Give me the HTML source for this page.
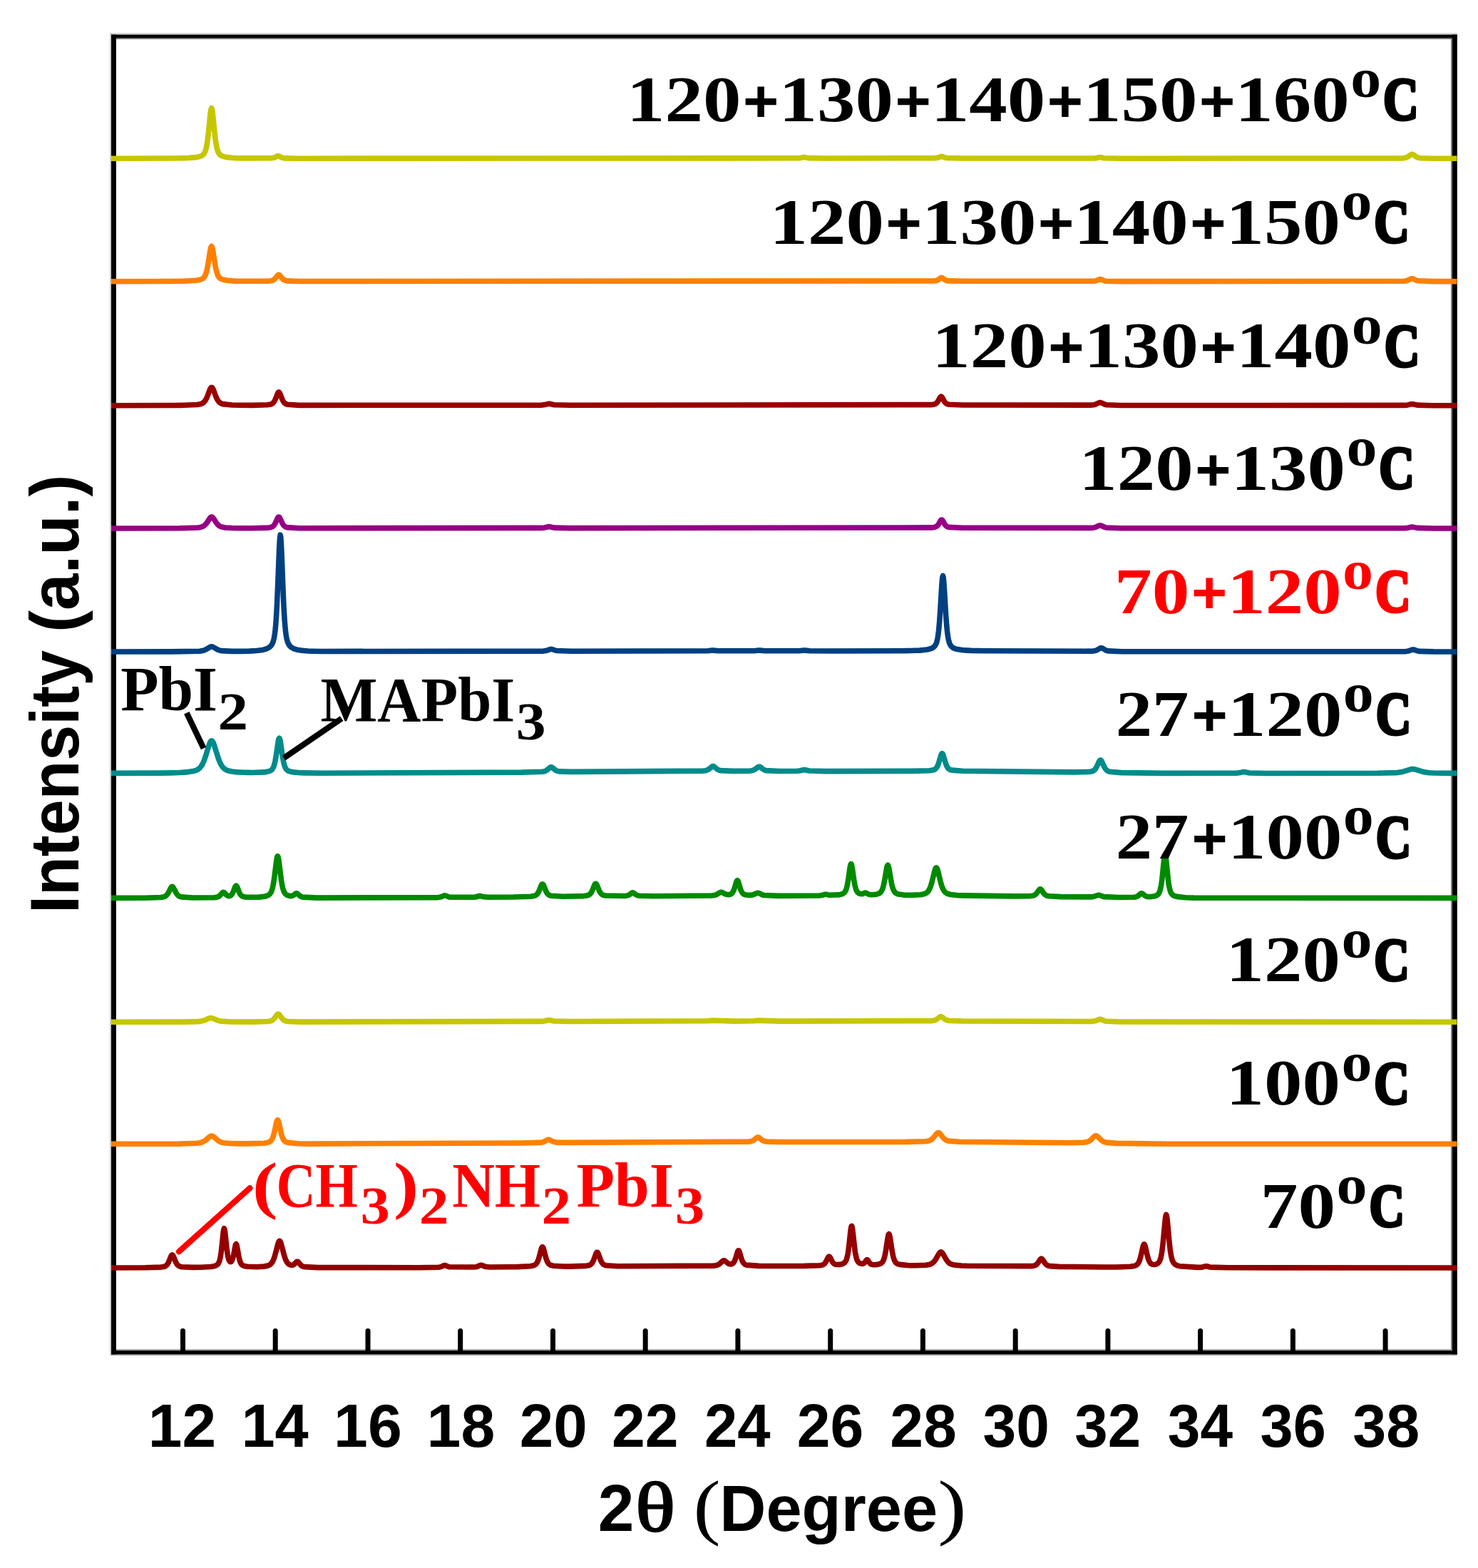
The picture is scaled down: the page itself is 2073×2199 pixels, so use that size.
<!DOCTYPE html>
<html lang="en"><head><meta charset="utf-8"><title>XRD patterns</title>
<style>html,body{margin:0;padding:0;background:#fff}body{width:2073px;height:2199px;overflow:hidden}svg{display:block}text{white-space:pre}.s{font-family:"Liberation Serif", serif;font-weight:bold}.a{font-family:"Liberation Sans", sans-serif;font-weight:bold}.r{font-family:"Liberation Serif", serif;font-weight:normal}</style></head><body>
<svg width="2073" height="2199" viewBox="0 0 2073 2199">
<rect x="0" y="0" width="2073" height="2199" fill="#fff"/>
<rect x="154.1" y="46.3" width="1.9" height="1854.5" fill="#c8c8c8"/>
<rect x="2035.0" y="48.6" width="2.0" height="1850.7" fill="#808080"/>
<rect x="154.1" y="46.3" width="1889.7" height="2.3" fill="#d0d0d0"/>
<rect x="156.0" y="53.1" width="1881.0" height="1.8" fill="#666"/>
<rect x="156.0" y="1892.2" width="1881.0" height="1.9" fill="#999"/>
<rect x="156.0" y="1899.3" width="1887.8" height="1.5" fill="#888"/>
<rect x="156.0" y="48.6" width="6.9" height="1850.7" fill="#000"/>
<rect x="2037.0" y="48.6" width="6.8" height="1850.7" fill="#000"/>
<rect x="156.0" y="48.6" width="1887.8" height="4.5" fill="#000"/>
<rect x="156.0" y="1894.1" width="1887.8" height="5.2" fill="#000"/>
<g stroke="#000" stroke-width="7.0" stroke-linecap="round">
<line x1="256.5" y1="1895" x2="256.5" y2="1866.6"/>
<line x1="386.2" y1="1895" x2="386.2" y2="1866.6"/>
<line x1="516.0" y1="1895" x2="516.0" y2="1866.6"/>
<line x1="645.7" y1="1895" x2="645.7" y2="1866.6"/>
<line x1="775.5" y1="1895" x2="775.5" y2="1866.6"/>
<line x1="905.2" y1="1895" x2="905.2" y2="1866.6"/>
<line x1="1034.9" y1="1895" x2="1034.9" y2="1866.6"/>
<line x1="1164.7" y1="1895" x2="1164.7" y2="1866.6"/>
<line x1="1294.4" y1="1895" x2="1294.4" y2="1866.6"/>
<line x1="1424.2" y1="1895" x2="1424.2" y2="1866.6"/>
<line x1="1553.9" y1="1895" x2="1553.9" y2="1866.6"/>
<line x1="1683.6" y1="1895" x2="1683.6" y2="1866.6"/>
<line x1="1813.4" y1="1895" x2="1813.4" y2="1866.6"/>
<line x1="1943.1" y1="1895" x2="1943.1" y2="1866.6"/>
</g>
<g fill="none" stroke-width="7.6" stroke-linejoin="round" stroke-linecap="butt">
<path stroke="#c6c600" d="M156.0,222.3 L240.0,222.0 L258.0,221.8 L264.0,221.5 L275.1,220.6 L279.3,219.7 L282.3,218.7 L283.5,218.0 L284.7,217.1 L285.3,216.5 L285.9,215.8 L286.5,215.0 L287.1,213.9 L288.0,211.8 L288.9,208.9 L289.5,206.3 L290.1,203.3 L290.7,199.7 L291.3,195.4 L292.5,185.1 L294.9,160.8 L295.5,156.0 L296.1,152.7 L296.7,151.6 L297.3,152.7 L297.9,156.0 L298.5,160.8 L300.9,185.1 L302.1,195.4 L302.7,199.7 L303.3,203.3 L303.9,206.3 L304.5,208.9 L305.1,210.9 L306.0,213.3 L306.9,215.0 L307.5,215.8 L308.1,216.5 L309.3,217.6 L310.5,218.3 L312.9,219.4 L318.3,220.6 L325.5,221.3 L330.0,221.6 L342.0,221.9 L380.5,221.8 L382.9,221.5 L384.7,221.1 L386.5,220.2 L388.9,219.0 L389.5,218.8 L390.1,218.7 L390.7,218.8 L391.3,219.0 L394.9,220.8 L396.7,221.4 L400.3,221.9 L420.0,222.2 L1120.2,221.8 L1123.8,221.3 L1126.8,220.6 L1128.0,220.5 L1129.2,220.6 L1134.0,221.6 L1158.0,222.0 L1311.5,221.7 L1314.5,221.3 L1316.9,220.6 L1319.3,219.7 L1320.0,219.5 L1320.5,219.5 L1321.1,219.5 L1322.3,219.9 L1325.3,221.0 L1327.7,221.5 L1350.0,222.0 L1534.6,222.0 L1538.2,221.5 L1541.2,220.8 L1542.4,220.7 L1543.6,220.8 L1548.4,221.8 L1572.0,222.2 L1966.7,221.9 L1970.3,221.5 L1972.1,221.0 L1974.0,220.2 L1975.7,219.2 L1978.7,216.9 L1979.3,216.6 L1980.0,216.4 L1980.5,216.3 L1981.1,216.4 L1981.7,216.6 L1982.9,217.3 L1986.0,219.6 L1987.7,220.6 L1989.5,221.2 L1993.1,221.8 L2010.0,222.2 L2043.5,222.3"/>
<path stroke="#ff8000" d="M156.0,394.7 L240.0,394.5 L258.0,394.2 L275.1,393.3 L279.9,392.5 L282.3,391.7 L283.5,391.1 L284.7,390.4 L285.9,389.2 L286.5,388.5 L287.1,387.5 L288.0,385.8 L288.9,383.4 L289.5,381.4 L290.1,379.1 L291.3,373.4 L292.5,366.3 L294.3,354.4 L294.9,350.9 L295.5,348.0 L296.1,346.1 L296.7,345.4 L297.3,346.1 L297.9,348.0 L298.5,350.9 L301.5,370.0 L302.7,376.5 L303.3,379.1 L303.9,381.4 L304.5,383.4 L305.1,385.0 L306.3,387.5 L306.9,388.5 L307.5,389.2 L308.7,390.3 L309.9,391.1 L312.3,392.1 L318.3,393.3 L325.5,393.9 L330.0,394.1 L342.0,394.3 L377.1,394.1 L380.1,393.7 L381.9,393.3 L383.1,392.8 L384.3,392.0 L385.5,391.0 L386.7,389.7 L389.1,386.6 L390.0,385.7 L390.3,385.6 L390.9,385.4 L391.5,385.6 L392.1,386.0 L392.7,386.6 L396.3,391.0 L397.5,392.1 L398.7,392.8 L399.9,393.3 L402.3,393.9 L420.0,394.5 L1309.7,394.0 L1312.1,393.8 L1314.0,393.3 L1315.1,392.8 L1316.3,392.0 L1318.7,390.2 L1319.3,389.8 L1320.0,389.5 L1320.5,389.4 L1321.1,389.5 L1321.7,389.8 L1324.7,392.0 L1326.0,392.8 L1327.7,393.5 L1330.1,393.9 L1350.0,394.3 L1533.4,394.3 L1536.4,393.9 L1538.2,393.4 L1542.0,391.8 L1543.0,391.6 L1543.6,391.7 L1544.8,392.1 L1548.4,393.6 L1550.8,394.2 L1572.0,394.6 L1968.5,394.3 L1971.5,394.0 L1974.0,393.3 L1978.7,391.1 L1980.0,390.7 L1980.5,390.7 L1981.1,390.7 L1982.3,391.1 L1986.5,393.1 L1988.9,393.8 L2010.0,394.6 L2043.5,394.7"/>
<path stroke="#9a0000" d="M156.0,568.7 L246.0,568.5 L258.0,568.3 L276.4,567.5 L280.6,566.8 L282.4,566.2 L283.6,565.7 L284.8,565.0 L286.0,564.0 L287.2,562.7 L288.4,560.9 L289.6,558.7 L290.8,556.0 L294.4,546.4 L295.0,545.1 L295.6,544.1 L296.2,543.5 L296.8,543.3 L297.4,543.5 L298.0,544.1 L298.6,545.1 L300.0,548.5 L302.8,556.0 L304.0,558.7 L305.2,560.9 L306.4,562.7 L307.6,564.0 L308.8,565.0 L310.0,565.7 L312.4,566.6 L325.6,568.0 L336.0,568.3 L354.0,568.4 L374.8,567.8 L378.4,567.3 L380.2,566.8 L381.4,566.3 L382.6,565.5 L383.2,564.9 L384.4,563.4 L385.6,561.3 L386.8,558.5 L389.2,552.3 L390.0,550.7 L390.4,550.2 L391.0,549.9 L391.6,550.2 L392.2,551.0 L392.8,552.3 L396.0,560.4 L397.0,562.4 L397.6,563.4 L398.2,564.2 L398.8,564.9 L400.0,565.9 L401.2,566.6 L403.0,567.2 L420.0,568.4 L759.8,568.1 L764.0,567.6 L768.8,566.4 L770.0,566.3 L771.2,566.4 L777.2,567.8 L798.8,568.3 L1305.6,567.6 L1309.2,567.2 L1311.0,566.8 L1312.2,566.3 L1313.4,565.4 L1314.0,564.9 L1314.6,564.2 L1315.8,562.4 L1318.2,557.9 L1318.8,557.0 L1319.4,556.3 L1320.0,556.1 L1320.6,556.3 L1321.2,557.0 L1321.8,557.9 L1324.2,562.4 L1325.4,564.2 L1326.0,564.9 L1326.6,565.4 L1327.8,566.3 L1329.0,566.8 L1331.4,567.3 L1350.0,568.0 L1531.0,568.1 L1534.0,567.7 L1536.4,567.1 L1541.2,564.9 L1542.4,564.6 L1543.0,564.5 L1543.6,564.6 L1544.8,564.9 L1549.0,566.9 L1551.4,567.7 L1572.0,568.5 L1970.3,568.4 L1974.5,567.9 L1979.3,566.8 L1980.5,566.7 L1981.7,566.8 L1987.7,568.1 L2010.0,568.7 L2043.5,568.7"/>
<path stroke="#960084" d="M156.0,741.0 L252.0,740.8 L277.6,740.0 L281.2,739.4 L283.6,738.7 L285.4,737.9 L286.6,737.0 L288.4,735.4 L290.2,733.1 L294.4,726.7 L295.0,726.0 L295.6,725.4 L296.2,725.1 L296.8,725.0 L297.4,725.1 L298.0,725.4 L298.6,726.0 L300.0,727.8 L303.4,733.1 L305.2,735.4 L306.4,736.5 L307.6,737.5 L309.4,738.5 L311.2,739.1 L316.0,740.0 L325.6,740.5 L336.0,740.7 L354.0,740.7 L376.0,740.1 L379.0,739.7 L380.8,739.2 L382.0,738.6 L383.2,737.8 L384.4,736.5 L385.6,734.7 L386.8,732.3 L389.2,726.9 L390.0,725.6 L390.4,725.2 L391.0,725.0 L391.6,725.2 L392.2,725.9 L392.8,727.0 L396.0,733.9 L397.0,735.6 L398.2,737.2 L399.4,738.2 L400.6,739.0 L402.4,739.6 L420.0,740.7 L759.8,740.4 L764.0,739.9 L768.8,738.7 L770.0,738.6 L771.2,738.7 L777.2,740.1 L798.8,740.6 L1306.9,739.9 L1310.5,739.4 L1311.7,739.1 L1312.9,738.6 L1314.1,737.9 L1314.7,737.3 L1315.9,735.9 L1317.1,734.0 L1318.9,730.7 L1319.5,729.8 L1320.1,729.2 L1320.7,729.0 L1321.3,729.2 L1321.9,729.8 L1322.5,730.7 L1324.9,735.0 L1326.1,736.7 L1326.7,737.3 L1327.9,738.3 L1329.1,738.9 L1330.9,739.4 L1350.0,740.3 L1531.0,740.4 L1534.0,740.0 L1536.4,739.4 L1541.2,737.2 L1542.4,736.9 L1543.0,736.8 L1543.6,736.9 L1544.8,737.2 L1549.0,739.2 L1551.4,740.0 L1572.0,740.8 L1970.3,740.7 L1974.5,740.2 L1979.3,739.1 L1980.5,739.0 L1981.7,739.1 L1987.7,740.4 L2010.0,741.0 L2043.5,741.0"/>
<path stroke="#004080" d="M156.0,914.0 L240.0,913.9 L280.0,913.2 L284.2,912.6 L286.6,911.9 L289.0,910.8 L294.4,907.5 L295.6,907.0 L296.2,906.9 L296.8,906.8 L297.4,906.9 L298.6,907.2 L300.4,908.2 L304.6,910.7 L307.0,911.8 L310.0,912.6 L325.6,913.4 L336.0,913.4 L348.0,913.2 L354.0,912.9 L360.0,912.5 L368.6,911.4 L372.8,910.3 L375.2,909.3 L377.0,908.3 L378.2,907.4 L379.4,906.3 L380.6,904.9 L381.2,904.0 L381.8,903.0 L382.4,901.7 L383.0,900.1 L383.6,898.2 L384.2,895.8 L384.8,892.7 L385.4,888.8 L386.0,883.9 L386.6,877.6 L387.2,870.0 L387.8,860.6 L388.4,849.5 L390.2,806.7 L391.4,775.3 L392.0,762.3 L392.6,753.4 L393.2,750.2 L393.8,753.4 L394.4,762.3 L395.0,775.3 L397.4,836.7 L398.0,849.6 L398.6,860.6 L399.2,870.0 L399.8,877.7 L400.4,883.9 L401.0,888.8 L401.6,892.7 L402.2,895.8 L402.8,898.2 L403.4,900.2 L404.0,901.7 L404.6,903.0 L405.2,904.0 L406.4,905.7 L408.2,907.5 L410.0,908.7 L412.4,909.9 L416.6,911.2 L422.0,912.1 L426.0,912.5 L432.0,913.0 L438.0,913.2 L450.0,913.5 L762.2,913.1 L765.8,912.6 L771.8,910.6 L773.0,910.4 L774.2,910.5 L780.2,912.5 L801.8,913.3 L992.8,912.8 L998.8,912.0 L1000.6,912.1 L1007.2,912.8 L1058.2,912.8 L1064.2,912.0 L1066.0,912.1 L1072.6,912.8 L1121.4,912.8 L1127.4,912.0 L1129.2,912.1 L1135.8,912.8 L1170.0,913.0 L1266.0,912.7 L1278.0,912.5 L1284.0,912.3 L1290.0,912.1 L1300.3,911.0 L1304.5,910.0 L1306.9,909.1 L1308.7,908.1 L1309.9,907.2 L1311.1,905.9 L1311.7,905.1 L1312.3,904.1 L1312.9,902.9 L1313.5,901.3 L1314.1,899.3 L1314.7,896.8 L1315.3,893.6 L1315.9,889.6 L1316.5,884.7 L1317.1,878.6 L1317.7,871.5 L1318.9,854.0 L1320.7,823.7 L1321.3,815.3 L1321.9,809.5 L1322.5,807.5 L1323.1,809.5 L1323.7,815.3 L1324.3,823.7 L1326.7,863.2 L1327.3,871.5 L1327.9,878.6 L1328.5,884.7 L1329.1,889.6 L1329.7,893.6 L1330.3,896.8 L1330.9,899.3 L1331.5,901.3 L1332.1,902.9 L1332.7,904.1 L1333.3,905.1 L1333.9,905.9 L1335.1,907.2 L1336.3,908.1 L1338.1,909.1 L1341.1,910.2 L1348.9,911.6 L1351.3,911.8 L1356.0,912.1 L1362.0,912.4 L1380.0,912.7 L1531.9,913.2 L1534.9,912.8 L1536.7,912.4 L1538.5,911.7 L1542.7,909.2 L1543.3,908.9 L1543.9,908.7 L1544.5,908.7 L1545.1,908.7 L1545.7,908.9 L1546.9,909.5 L1549.9,911.4 L1551.7,912.3 L1554.1,912.9 L1573.3,913.7 L1970.6,913.7 L1974.2,913.3 L1977.2,912.4 L1980.2,911.3 L1981.4,911.0 L1982.6,911.0 L1983.8,911.3 L1988.0,912.8 L1991.0,913.4 L2010.8,913.9 L2043.5,914.0"/>
<path stroke="#008b8b" d="M156.0,1084.4 L228.0,1084.1 L240.0,1083.9 L252.0,1083.5 L258.0,1083.1 L264.0,1082.6 L271.0,1081.6 L274.0,1080.7 L276.4,1079.7 L278.2,1078.6 L279.4,1077.7 L280.6,1076.5 L282.4,1074.2 L283.6,1072.2 L284.8,1069.9 L286.6,1065.6 L288.4,1060.5 L292.6,1046.7 L294.0,1042.7 L295.0,1040.6 L295.6,1039.7 L296.2,1039.1 L296.8,1038.9 L297.4,1039.1 L298.0,1039.7 L298.6,1040.6 L299.2,1041.7 L300.4,1044.8 L306.0,1062.8 L307.6,1067.1 L308.8,1069.9 L310.0,1072.2 L311.2,1074.1 L312.4,1075.8 L313.6,1077.1 L314.8,1078.1 L316.6,1079.4 L319.0,1080.5 L323.2,1081.6 L325.6,1082.0 L330.0,1082.6 L336.0,1083.0 L342.0,1083.3 L348.0,1083.4 L354.0,1083.5 L370.7,1082.9 L375.5,1082.1 L378.0,1081.4 L379.7,1080.6 L380.9,1079.7 L381.5,1079.1 L382.1,1078.4 L382.7,1077.5 L383.3,1076.3 L384.0,1074.6 L384.5,1073.2 L385.1,1071.1 L385.7,1068.6 L386.3,1065.6 L387.5,1058.4 L390.0,1041.0 L390.5,1038.3 L391.1,1036.1 L391.7,1035.3 L392.3,1036.1 L392.9,1038.3 L393.5,1041.6 L396.0,1059.1 L397.1,1065.7 L397.7,1068.6 L398.3,1071.1 L398.9,1073.2 L399.5,1075.0 L400.1,1076.4 L400.7,1077.6 L401.3,1078.5 L402.0,1079.3 L403.1,1080.3 L404.3,1081.1 L406.1,1081.8 L410.9,1082.9 L420.5,1083.7 L426.0,1083.9 L450.0,1084.3 L732.0,1083.1 L759.8,1082.3 L762.8,1081.9 L764.6,1081.4 L765.8,1080.8 L767.0,1080.1 L771.2,1076.5 L771.8,1076.1 L772.4,1075.9 L773.0,1075.8 L773.6,1075.9 L774.2,1076.1 L775.4,1077.0 L778.4,1079.5 L780.2,1080.7 L782.0,1081.4 L784.4,1081.9 L801.8,1082.4 L986.2,1081.1 L989.2,1080.7 L991.0,1080.3 L992.8,1079.5 L994.0,1078.8 L998.2,1075.3 L998.8,1074.9 L999.4,1074.7 L1000.0,1074.6 L1000.6,1074.7 L1001.2,1074.9 L1002.4,1075.8 L1005.4,1078.4 L1006.6,1079.2 L1008.4,1080.1 L1010.2,1080.6 L1028.8,1081.4 L1051.6,1081.1 L1054.6,1080.7 L1056.4,1080.2 L1058.2,1079.4 L1060.0,1078.2 L1063.0,1075.8 L1063.6,1075.5 L1064.2,1075.2 L1064.8,1075.2 L1065.4,1075.2 L1066.0,1075.5 L1067.2,1076.3 L1070.2,1078.7 L1072.0,1079.7 L1074.4,1080.6 L1093.6,1081.5 L1118.4,1081.2 L1122.6,1080.7 L1126.8,1079.7 L1128.0,1079.6 L1129.2,1079.7 L1135.2,1081.0 L1158.0,1081.6 L1278.0,1081.4 L1303.4,1080.7 L1308.2,1080.0 L1310.0,1079.5 L1311.2,1078.9 L1312.4,1078.0 L1313.0,1077.4 L1314.2,1075.7 L1314.8,1074.6 L1315.4,1073.3 L1316.6,1070.0 L1319.6,1059.7 L1320.2,1058.1 L1320.8,1057.0 L1321.4,1056.6 L1322.0,1057.0 L1322.6,1058.1 L1323.2,1059.7 L1326.2,1070.0 L1327.4,1073.3 L1328.0,1074.6 L1328.6,1075.7 L1329.2,1076.6 L1329.8,1077.4 L1330.4,1078.0 L1331.6,1078.9 L1332.8,1079.5 L1335.2,1080.1 L1350.2,1081.3 L1506.0,1082.9 L1526.7,1082.5 L1530.3,1082.0 L1532.1,1081.5 L1533.3,1081.0 L1534.5,1080.2 L1536.0,1078.7 L1536.9,1077.5 L1538.1,1075.5 L1541.1,1068.9 L1542.0,1067.2 L1542.3,1066.8 L1542.9,1066.2 L1543.5,1065.9 L1544.1,1066.2 L1544.7,1066.8 L1545.3,1067.8 L1548.9,1075.6 L1550.1,1077.7 L1551.3,1079.3 L1552.5,1080.4 L1554.3,1081.5 L1556.1,1082.2 L1572.3,1083.6 L1632.0,1084.4 L1735.0,1084.2 L1739.2,1083.6 L1743.4,1082.6 L1744.6,1082.5 L1746.4,1082.7 L1752.4,1084.0 L1773.4,1084.5 L1932.0,1084.3 L1959.9,1083.6 L1966.5,1082.6 L1978.5,1078.9 L1980.3,1078.6 L1982.1,1078.5 L1984.5,1078.9 L1995.9,1082.4 L2004.3,1083.7 L2010.3,1084.0 L2022.0,1084.3 L2043.5,1084.4"/>
<path stroke="#008a00" d="M156.0,1259.4 L204.0,1259.2 L225.3,1258.5 L228.9,1258.0 L230.7,1257.4 L231.9,1256.8 L233.1,1256.0 L234.3,1254.7 L235.5,1253.1 L236.7,1251.0 L239.7,1245.0 L240.3,1244.1 L240.9,1243.5 L241.5,1243.3 L242.1,1243.5 L242.7,1244.1 L243.3,1245.0 L246.9,1252.0 L248.1,1253.9 L249.3,1255.3 L250.5,1256.4 L252.3,1257.4 L254.1,1257.9 L270.3,1259.0 L300.6,1258.7 L303.6,1258.3 L305.4,1257.8 L306.6,1257.3 L307.8,1256.5 L309.0,1255.4 L311.4,1252.5 L312.0,1251.9 L312.6,1251.4 L313.2,1251.3 L313.8,1251.4 L314.4,1251.7 L317.4,1254.9 L318.6,1255.8 L319.2,1256.2 L319.8,1256.4 L320.4,1256.6 L321.0,1256.6 L321.6,1256.6 L322.2,1256.5 L322.8,1256.3 L323.4,1256.0 L324.0,1255.5 L324.6,1255.0 L325.2,1254.2 L325.8,1253.3 L326.4,1252.2 L327.6,1249.5 L329.4,1244.7 L330.0,1243.4 L330.6,1242.5 L331.2,1242.1 L331.8,1242.5 L332.4,1243.4 L333.0,1244.7 L335.4,1251.1 L336.6,1253.5 L337.2,1254.5 L337.8,1255.3 L338.4,1255.9 L339.0,1256.4 L340.2,1257.1 L341.4,1257.6 L345.0,1258.2 L363.6,1258.1 L370.8,1257.3 L373.8,1256.5 L375.6,1255.8 L376.8,1255.2 L378.0,1254.2 L378.6,1253.6 L379.2,1252.9 L379.8,1251.9 L380.4,1250.8 L381.0,1249.3 L381.6,1247.6 L382.2,1245.4 L382.8,1242.8 L383.4,1239.8 L384.6,1232.2 L387.8,1206.6 L388.4,1203.1 L388.8,1201.6 L389.0,1201.1 L389.4,1200.7 L389.6,1200.8 L390.0,1201.6 L390.6,1204.1 L391.4,1209.4 L394.4,1233.5 L395.6,1240.8 L396.8,1246.1 L398.0,1249.8 L399.2,1252.2 L400.4,1253.7 L401.6,1254.8 L403.4,1255.7 L405.8,1256.4 L408.2,1256.6 L410.0,1256.3 L411.8,1255.4 L414.8,1253.1 L415.4,1252.9 L416.0,1252.8 L416.6,1252.9 L417.2,1253.3 L420.2,1256.0 L421.4,1256.9 L422.6,1257.5 L424.4,1258.1 L444.8,1259.1 L614.1,1258.6 L617.1,1258.2 L618.9,1257.7 L622.5,1256.1 L623.1,1255.9 L624.0,1255.9 L624.9,1256.1 L628.5,1257.6 L630.3,1258.1 L664.0,1258.3 L667.0,1258.0 L672.4,1256.5 L673.6,1256.5 L678.4,1257.8 L685.0,1258.3 L720.0,1258.0 L744.6,1257.2 L748.2,1256.6 L750.0,1256.2 L751.2,1255.6 L752.4,1254.8 L753.0,1254.3 L753.6,1253.6 L754.2,1252.8 L755.4,1250.8 L756.6,1248.1 L759.0,1242.0 L759.6,1240.9 L760.2,1240.1 L760.8,1239.8 L761.4,1240.1 L762.0,1240.8 L762.6,1242.0 L765.6,1249.4 L766.8,1251.7 L767.4,1252.7 L768.0,1253.5 L768.6,1254.1 L769.8,1255.1 L771.0,1255.7 L772.8,1256.3 L789.6,1257.2 L818.7,1256.6 L822.9,1256.0 L824.7,1255.5 L825.9,1255.0 L827.1,1254.2 L828.3,1253.0 L828.9,1252.2 L830.1,1250.2 L831.3,1247.5 L833.7,1241.5 L834.3,1240.3 L834.9,1239.5 L835.5,1239.2 L836.1,1239.5 L836.7,1240.3 L837.3,1241.4 L840.3,1248.8 L841.5,1251.2 L842.1,1252.1 L842.7,1252.9 L843.3,1253.6 L844.5,1254.5 L846.3,1255.4 L848.7,1256.0 L875.4,1256.5 L879.0,1256.2 L880.8,1255.7 L882.0,1255.2 L883.2,1254.5 L885.6,1252.6 L886.2,1252.2 L886.8,1251.9 L887.4,1251.8 L888.0,1251.9 L888.6,1252.2 L891.6,1254.5 L892.8,1255.2 L894.0,1255.7 L895.8,1256.2 L916.2,1256.7 L998.2,1256.0 L1002.4,1255.5 L1004.2,1254.9 L1006.0,1254.0 L1009.6,1251.8 L1010.2,1251.5 L1010.8,1251.3 L1011.4,1251.2 L1012.0,1251.2 L1012.6,1251.4 L1016.8,1253.6 L1018.6,1254.3 L1020.4,1254.6 L1022.2,1254.6 L1023.4,1254.5 L1024.6,1254.1 L1026.0,1253.3 L1027.0,1252.3 L1027.6,1251.5 L1028.2,1250.5 L1028.8,1249.2 L1029.4,1247.8 L1030.6,1244.2 L1032.4,1238.0 L1033.0,1236.3 L1033.6,1235.1 L1034.2,1234.7 L1034.8,1235.1 L1035.4,1236.3 L1036.0,1238.0 L1038.4,1246.2 L1039.0,1247.9 L1039.6,1249.3 L1040.2,1250.6 L1040.8,1251.6 L1041.4,1252.4 L1042.0,1253.1 L1042.6,1253.6 L1043.2,1254.0 L1044.4,1254.5 L1046.2,1255.0 L1050.4,1255.4 L1053.4,1255.4 L1056.4,1254.8 L1061.2,1252.7 L1062.4,1252.3 L1063.0,1252.3 L1063.6,1252.4 L1064.8,1252.7 L1069.0,1254.8 L1071.4,1255.5 L1092.0,1256.4 L1149.6,1256.0 L1152.6,1255.6 L1156.8,1254.3 L1158.0,1254.2 L1159.2,1254.3 L1162.8,1255.3 L1176.9,1254.9 L1181.4,1253.8 L1183.2,1252.8 L1184.4,1251.7 L1185.3,1250.5 L1186.5,1248.1 L1187.1,1246.4 L1188.3,1241.7 L1189.5,1235.2 L1191.9,1218.4 L1192.5,1214.8 L1193.1,1212.4 L1193.6,1211.5 L1193.7,1211.5 L1194.0,1211.7 L1194.3,1212.3 L1194.9,1214.8 L1195.5,1218.3 L1197.9,1235.1 L1199.1,1241.6 L1200.3,1246.2 L1200.9,1247.9 L1201.5,1249.3 L1202.1,1250.3 L1202.7,1251.1 L1203.3,1251.8 L1204.5,1252.7 L1206.3,1253.4 L1208.1,1253.8 L1209.3,1253.7 L1210.5,1253.4 L1212.9,1252.2 L1213.5,1252.0 L1214.1,1252.0 L1214.7,1252.2 L1218.3,1254.2 L1220.1,1254.7 L1224.2,1254.8 L1229.0,1254.2 L1231.4,1253.6 L1232.6,1253.1 L1233.8,1252.5 L1235.0,1251.5 L1236.2,1249.9 L1236.8,1248.9 L1237.4,1247.6 L1238.0,1246.0 L1238.6,1244.1 L1239.2,1241.9 L1240.4,1236.3 L1243.4,1218.6 L1244.0,1215.8 L1244.6,1213.9 L1245.2,1213.2 L1245.8,1213.9 L1246.4,1215.8 L1247.0,1218.6 L1249.4,1233.0 L1250.6,1239.3 L1251.2,1241.9 L1251.8,1244.2 L1252.4,1246.1 L1253.0,1247.6 L1254.2,1250.0 L1254.8,1250.8 L1255.4,1251.5 L1256.6,1252.5 L1257.8,1253.2 L1260.2,1254.1 L1267.4,1255.1 L1274.0,1255.4 L1278.0,1255.4 L1291.0,1254.7 L1295.2,1253.9 L1297.6,1253.2 L1298.8,1252.6 L1300.0,1251.8 L1301.2,1250.7 L1302.4,1249.1 L1303.6,1247.0 L1304.8,1244.3 L1306.0,1240.8 L1307.2,1236.6 L1310.8,1221.8 L1311.4,1219.8 L1312.0,1218.2 L1312.6,1217.2 L1313.2,1216.8 L1313.8,1217.2 L1314.4,1218.2 L1315.0,1219.8 L1315.6,1221.8 L1319.2,1236.7 L1320.4,1240.9 L1321.6,1244.4 L1322.8,1247.1 L1324.0,1249.2 L1325.2,1250.7 L1326.4,1251.9 L1327.6,1252.7 L1329.4,1253.5 L1333.0,1254.5 L1342.0,1255.5 L1344.0,1255.7 L1350.0,1255.9 L1422.0,1256.9 L1445.2,1256.6 L1448.2,1256.2 L1450.0,1255.8 L1451.2,1255.2 L1452.4,1254.4 L1453.6,1253.2 L1454.8,1251.7 L1457.2,1248.2 L1458.0,1247.3 L1458.4,1247.0 L1459.0,1246.9 L1459.6,1247.0 L1460.2,1247.5 L1460.8,1248.2 L1464.0,1252.9 L1465.0,1254.0 L1466.2,1255.0 L1467.4,1255.7 L1468.6,1256.2 L1471.6,1256.8 L1488.0,1257.6 L1530.2,1257.9 L1533.8,1257.4 L1539.8,1255.5 L1541.0,1255.4 L1542.2,1255.5 L1548.2,1257.6 L1569.8,1258.5 L1590.3,1258.3 L1592.7,1257.9 L1593.9,1257.6 L1595.1,1257.1 L1596.3,1256.4 L1599.9,1253.2 L1600.5,1252.9 L1601.1,1252.8 L1601.7,1252.9 L1602.3,1253.2 L1605.3,1255.7 L1606.5,1256.5 L1608.3,1257.3 L1610.1,1257.6 L1614.3,1257.6 L1618.5,1257.0 L1620.9,1256.3 L1622.1,1255.8 L1623.3,1255.0 L1623.9,1254.5 L1624.5,1253.9 L1625.1,1253.1 L1626.0,1251.5 L1626.9,1249.2 L1627.5,1247.1 L1628.1,1244.4 L1628.7,1241.1 L1629.3,1237.1 L1629.9,1232.4 L1632.3,1208.6 L1632.9,1203.4 L1633.5,1199.8 L1634.1,1198.5 L1634.7,1199.8 L1635.3,1203.4 L1635.9,1208.7 L1638.3,1232.4 L1638.9,1237.2 L1639.5,1241.2 L1640.1,1244.5 L1640.7,1247.2 L1641.3,1249.3 L1641.9,1251.0 L1642.5,1252.3 L1643.1,1253.3 L1644.3,1254.7 L1645.5,1255.6 L1647.3,1256.5 L1650.3,1257.4 L1662.9,1258.8 L1674.0,1259.1 L2043.5,1259.4"/>
<path stroke="#c6c600" d="M156.0,1433.3 L258.0,1433.1 L278.9,1432.6 L283.1,1431.9 L286.7,1430.9 L293.3,1428.1 L294.5,1427.8 L295.7,1427.7 L296.9,1427.8 L298.7,1428.3 L305.3,1431.1 L309.5,1432.1 L324.5,1433.0 L354.0,1433.1 L375.8,1432.5 L378.8,1432.1 L380.6,1431.5 L381.8,1430.9 L383.0,1430.0 L384.2,1428.9 L386.0,1426.6 L387.8,1424.0 L388.4,1423.2 L389.0,1422.6 L389.6,1422.2 L390.2,1422.1 L390.8,1422.2 L391.4,1422.6 L392.0,1423.2 L395.6,1428.2 L396.8,1429.5 L398.0,1430.5 L399.2,1431.2 L401.0,1431.9 L404.6,1432.5 L420.0,1433.1 L759.8,1432.4 L764.0,1431.8 L768.8,1430.7 L770.0,1430.6 L771.2,1430.7 L777.2,1432.0 L798.8,1432.5 L992.8,1431.8 L999.4,1431.1 L1028.8,1432.1 L1056.8,1431.8 L1063.4,1431.1 L1092.8,1432.1 L1305.8,1431.6 L1309.4,1431.2 L1311.2,1430.7 L1313.0,1429.9 L1314.8,1428.8 L1317.8,1426.4 L1318.4,1426.0 L1319.0,1425.8 L1319.6,1425.7 L1320.2,1425.8 L1320.8,1426.0 L1322.0,1426.8 L1325.0,1429.2 L1326.8,1430.2 L1328.6,1430.9 L1332.2,1431.5 L1350.0,1432.0 L1531.6,1432.5 L1534.6,1432.1 L1537.0,1431.5 L1541.2,1429.8 L1542.4,1429.4 L1543.0,1429.4 L1543.6,1429.5 L1544.8,1429.8 L1549.0,1431.6 L1551.4,1432.2 L1572.0,1433.0 L2043.5,1433.3"/>
<path stroke="#ff8000" d="M156.0,1604.3 L252.0,1604.1 L276.4,1603.3 L280.6,1602.7 L283.0,1602.0 L285.4,1600.9 L288.4,1599.0 L294.0,1594.2 L295.0,1593.5 L295.6,1593.3 L296.2,1593.1 L296.8,1593.1 L297.4,1593.1 L298.0,1593.3 L299.2,1593.9 L301.0,1595.3 L305.2,1599.0 L307.6,1600.6 L310.0,1601.8 L313.0,1602.7 L325.6,1603.7 L336.0,1603.9 L348.0,1603.9 L370.2,1603.2 L375.0,1602.4 L376.8,1601.9 L378.0,1601.4 L379.2,1600.6 L379.8,1600.0 L380.4,1599.4 L381.0,1598.5 L381.6,1597.5 L382.2,1596.3 L382.8,1594.8 L383.4,1593.1 L384.6,1588.7 L387.6,1574.8 L388.2,1572.6 L388.8,1571.2 L389.4,1570.7 L390.0,1571.2 L390.6,1572.6 L391.2,1574.8 L393.6,1586.1 L394.8,1591.0 L395.4,1593.1 L396.0,1594.8 L396.6,1596.3 L397.2,1597.5 L397.8,1598.6 L398.4,1599.4 L399.0,1600.1 L400.2,1601.0 L401.4,1601.7 L403.8,1602.5 L418.2,1603.8 L432.0,1604.1 L732.0,1603.0 L757.4,1602.4 L760.4,1602.0 L762.2,1601.5 L764.0,1600.7 L768.2,1598.4 L768.8,1598.3 L769.4,1598.2 L770.0,1598.3 L770.6,1598.4 L775.4,1600.9 L777.2,1601.5 L780.2,1602.1 L798.2,1602.4 L1049.2,1601.1 L1052.8,1600.7 L1054.6,1600.2 L1056.4,1599.3 L1058.2,1598.1 L1061.2,1595.6 L1062.0,1595.1 L1062.4,1595.0 L1063.0,1594.9 L1063.6,1595.0 L1064.2,1595.2 L1065.4,1596.0 L1068.4,1598.6 L1070.2,1599.7 L1072.0,1600.4 L1075.0,1601.0 L1092.0,1601.5 L1272.0,1601.4 L1297.4,1600.7 L1301.0,1600.2 L1303.4,1599.6 L1305.2,1598.8 L1306.4,1598.0 L1308.2,1596.5 L1310.0,1594.5 L1313.0,1590.7 L1314.2,1589.4 L1314.8,1589.0 L1315.4,1588.7 L1316.0,1588.6 L1316.6,1588.7 L1317.2,1589.0 L1317.8,1589.4 L1319.0,1590.7 L1322.6,1595.2 L1324.4,1597.0 L1326.2,1598.4 L1328.0,1599.3 L1330.4,1600.1 L1344.8,1601.2 L1500.0,1602.7 L1519.7,1602.3 L1523.3,1601.8 L1525.7,1601.1 L1527.5,1600.3 L1529.3,1599.1 L1531.7,1596.9 L1534.1,1594.4 L1535.3,1593.4 L1536.0,1593.0 L1536.5,1592.8 L1537.1,1592.7 L1537.7,1592.8 L1538.3,1593.1 L1538.9,1593.4 L1540.1,1594.5 L1543.7,1598.2 L1545.5,1599.7 L1547.3,1600.9 L1549.1,1601.6 L1552.1,1602.4 L1566.0,1603.4 L1638.0,1604.2 L2043.5,1604.3"/>
<path stroke="#940000" d="M156.0,1778.0 L204.0,1777.8 L225.9,1777.1 L229.5,1776.5 L231.3,1776.0 L232.5,1775.3 L233.7,1774.3 L234.3,1773.7 L234.9,1772.9 L236.1,1770.8 L237.3,1768.2 L239.7,1762.1 L240.3,1761.0 L240.9,1760.2 L241.5,1759.9 L242.1,1760.2 L242.7,1760.9 L243.3,1762.1 L246.3,1769.5 L247.5,1771.9 L248.1,1772.8 L248.7,1773.6 L249.3,1774.2 L250.5,1775.2 L252.3,1776.1 L254.7,1776.7 L270.3,1777.4 L282.0,1777.3 L295.8,1776.5 L300.0,1775.8 L302.4,1775.0 L303.6,1774.4 L304.8,1773.6 L305.4,1773.0 L306.0,1772.3 L306.6,1771.3 L307.2,1770.1 L307.8,1768.4 L308.4,1766.3 L309.0,1763.6 L309.6,1760.2 L310.2,1756.0 L311.4,1745.5 L312.6,1733.4 L313.2,1728.0 L313.8,1724.2 L314.4,1722.8 L315.0,1724.1 L315.6,1727.8 L318.0,1750.3 L318.6,1755.1 L319.2,1759.1 L319.8,1762.4 L320.4,1764.9 L321.0,1766.8 L321.6,1768.1 L322.2,1769.0 L322.8,1769.5 L323.4,1769.7 L324.0,1769.5 L324.6,1769.0 L325.2,1768.2 L325.8,1766.9 L326.4,1765.1 L327.0,1762.9 L327.6,1760.3 L330.0,1747.4 L330.6,1745.3 L331.2,1744.6 L331.8,1745.5 L332.4,1747.8 L334.8,1761.4 L335.4,1764.3 L336.0,1766.8 L336.6,1768.8 L337.2,1770.4 L337.8,1771.7 L338.4,1772.7 L339.0,1773.4 L339.6,1774.0 L340.8,1774.8 L342.6,1775.5 L346.8,1776.3 L360.0,1776.7 L370.5,1776.1 L374.7,1775.3 L376.5,1774.7 L378.3,1773.8 L379.5,1772.9 L380.7,1771.7 L381.9,1770.0 L383.1,1767.7 L384.3,1764.8 L385.5,1761.1 L387.3,1754.5 L389.7,1745.0 L390.3,1743.1 L390.9,1741.6 L391.5,1740.7 L391.9,1740.4 L392.1,1740.4 L392.5,1740.5 L392.7,1740.7 L393.3,1741.6 L393.9,1743.1 L395.1,1747.2 L398.7,1761.1 L400.5,1766.2 L402.3,1769.8 L403.5,1771.5 L404.7,1772.6 L405.9,1773.4 L407.7,1774.1 L408.9,1774.3 L410.1,1774.2 L411.3,1773.8 L412.5,1773.0 L416.1,1769.5 L416.7,1769.2 L417.3,1769.2 L417.9,1769.5 L418.5,1770.1 L421.3,1773.5 L422.5,1774.7 L423.7,1775.5 L424.9,1776.1 L426.7,1776.6 L445.9,1777.6 L588.0,1777.7 L614.7,1777.3 L617.1,1776.9 L618.9,1776.4 L622.5,1774.8 L623.1,1774.6 L624.0,1774.6 L624.9,1774.8 L628.5,1776.3 L630.3,1776.8 L664.6,1777.0 L667.6,1776.7 L669.4,1776.3 L673.6,1774.4 L674.2,1774.3 L674.8,1774.2 L675.4,1774.3 L676.6,1774.7 L679.6,1776.0 L681.4,1776.5 L687.4,1777.0 L714.0,1776.8 L726.0,1776.6 L743.4,1775.7 L747.0,1775.1 L748.8,1774.6 L750.0,1774.1 L751.2,1773.2 L751.8,1772.7 L752.4,1772.0 L753.0,1771.1 L753.6,1770.1 L754.2,1768.9 L754.8,1767.4 L756.0,1763.8 L759.0,1752.2 L759.6,1750.3 L760.2,1749.1 L760.8,1748.7 L761.4,1749.1 L762.0,1750.3 L762.6,1752.1 L765.6,1763.7 L766.8,1767.3 L767.4,1768.8 L768.0,1770.0 L768.6,1771.0 L769.2,1771.9 L769.8,1772.5 L770.4,1773.1 L771.6,1773.9 L772.8,1774.4 L775.8,1775.2 L789.6,1776.0 L798.0,1776.1 L820.7,1775.4 L824.9,1774.8 L826.7,1774.3 L828.0,1773.6 L829.1,1772.8 L829.7,1772.2 L830.3,1771.5 L830.9,1770.6 L832.1,1768.3 L833.3,1765.4 L835.7,1758.7 L836.3,1757.4 L836.9,1756.5 L837.5,1756.2 L838.1,1756.5 L838.7,1757.4 L839.3,1758.7 L842.3,1766.9 L843.5,1769.5 L844.1,1770.5 L844.7,1771.4 L845.3,1772.1 L846.0,1772.8 L847.1,1773.6 L848.3,1774.2 L850.7,1774.8 L866.3,1775.8 L1000.2,1775.1 L1003.8,1774.7 L1005.6,1774.3 L1007.6,1773.5 L1009.4,1772.3 L1013.6,1768.4 L1014.2,1768.0 L1014.8,1767.8 L1015.4,1767.7 L1016.0,1767.8 L1017.2,1768.6 L1020.8,1771.6 L1022.6,1772.5 L1024.4,1772.9 L1025.6,1772.9 L1026.8,1772.5 L1028.0,1771.7 L1029.2,1770.4 L1030.4,1768.2 L1031.6,1765.1 L1034.6,1755.3 L1035.2,1754.1 L1035.6,1753.8 L1035.8,1753.7 L1036.2,1753.9 L1036.4,1754.2 L1037.0,1755.4 L1040.0,1765.3 L1041.2,1768.5 L1042.4,1770.7 L1043.6,1772.2 L1044.2,1772.7 L1045.4,1773.5 L1047.2,1774.1 L1064.6,1775.4 L1092.0,1775.5 L1128.0,1775.4 L1149.0,1774.8 L1152.0,1774.4 L1153.8,1773.9 L1155.0,1773.3 L1155.6,1772.9 L1156.2,1772.4 L1156.8,1771.8 L1157.4,1771.0 L1158.6,1769.1 L1161.0,1764.2 L1161.6,1763.1 L1162.2,1762.4 L1162.8,1762.1 L1163.4,1762.4 L1164.0,1763.0 L1164.6,1764.1 L1167.0,1768.8 L1168.2,1770.7 L1169.4,1772.0 L1170.6,1772.7 L1171.8,1773.2 L1173.6,1773.5 L1177.2,1773.4 L1180.2,1772.9 L1182.0,1772.3 L1183.2,1771.8 L1184.4,1770.9 L1185.0,1770.3 L1185.6,1769.6 L1186.2,1768.6 L1186.8,1767.4 L1187.4,1765.8 L1188.0,1763.8 L1188.6,1761.2 L1189.2,1758.1 L1189.8,1754.3 L1191.0,1744.7 L1192.8,1727.8 L1193.4,1723.2 L1194.0,1720.1 L1194.5,1719.3 L1194.6,1719.3 L1195.1,1720.5 L1195.8,1724.5 L1198.8,1751.3 L1199.4,1755.5 L1200.0,1759.1 L1200.6,1762.0 L1201.2,1764.4 L1201.8,1766.3 L1202.4,1767.7 L1203.0,1768.8 L1203.6,1769.7 L1204.2,1770.3 L1205.4,1771.3 L1206.6,1771.9 L1208.4,1772.3 L1209.6,1772.4 L1210.8,1772.1 L1211.4,1771.8 L1212.0,1771.4 L1212.6,1770.8 L1213.8,1769.2 L1215.0,1767.5 L1215.6,1766.8 L1216.2,1766.6 L1216.8,1766.9 L1217.4,1767.6 L1219.2,1770.5 L1220.4,1771.9 L1221.0,1772.5 L1222.2,1773.1 L1223.4,1773.5 L1226.4,1773.7 L1230.6,1773.4 L1233.0,1772.8 L1234.8,1772.2 L1236.0,1771.5 L1236.6,1771.0 L1237.2,1770.4 L1237.8,1769.7 L1238.4,1768.8 L1239.0,1767.6 L1239.6,1766.1 L1240.2,1764.3 L1240.8,1762.1 L1241.4,1759.5 L1242.6,1752.9 L1245.0,1736.9 L1245.6,1733.6 L1246.2,1731.3 L1246.8,1730.6 L1247.4,1731.3 L1248.0,1733.6 L1248.6,1736.9 L1251.0,1753.0 L1252.2,1759.6 L1252.8,1762.2 L1253.4,1764.4 L1254.0,1766.2 L1254.6,1767.7 L1255.2,1768.9 L1255.8,1769.8 L1256.4,1770.6 L1257.0,1771.2 L1258.2,1772.1 L1259.4,1772.7 L1261.8,1773.4 L1275.6,1774.8 L1284.0,1774.8 L1298.7,1774.3 L1302.9,1773.6 L1304.7,1773.1 L1306.5,1772.2 L1308.3,1771.0 L1309.5,1769.9 L1310.7,1768.5 L1312.5,1766.0 L1316.7,1758.6 L1317.3,1757.6 L1317.9,1756.9 L1318.5,1756.3 L1319.1,1755.9 L1319.7,1755.8 L1320.3,1755.9 L1320.9,1756.3 L1321.5,1756.9 L1322.1,1757.6 L1326.9,1766.0 L1328.7,1768.6 L1329.9,1770.0 L1331.1,1771.1 L1332.3,1772.0 L1334.1,1772.9 L1336.5,1773.7 L1348.5,1775.0 L1356.0,1775.2 L1446.2,1775.6 L1449.8,1775.2 L1451.6,1774.7 L1452.8,1774.1 L1454.0,1773.2 L1455.2,1771.9 L1456.4,1770.3 L1458.8,1766.5 L1459.4,1765.8 L1460.0,1765.3 L1460.6,1765.1 L1461.2,1765.3 L1461.8,1765.8 L1462.4,1766.6 L1465.4,1771.2 L1466.6,1772.7 L1467.8,1773.8 L1469.0,1774.5 L1470.2,1775.1 L1472.6,1775.6 L1485.2,1776.4 L1548.0,1777.0 L1566.0,1777.0 L1585.5,1776.3 L1590.3,1775.6 L1592.1,1775.0 L1593.3,1774.5 L1594.5,1773.7 L1595.1,1773.2 L1596.3,1771.8 L1596.9,1770.8 L1597.5,1769.6 L1598.1,1768.2 L1598.7,1766.5 L1599.9,1762.3 L1602.9,1749.0 L1603.5,1746.9 L1604.1,1745.5 L1604.7,1745.0 L1605.3,1745.4 L1605.9,1746.8 L1606.5,1748.9 L1609.5,1761.9 L1610.7,1765.9 L1611.9,1768.9 L1613.1,1770.9 L1614.3,1772.2 L1615.5,1772.9 L1616.7,1773.3 L1618.5,1773.5 L1620.9,1773.2 L1622.7,1772.5 L1623.9,1771.8 L1625.1,1770.6 L1626.3,1768.8 L1626.9,1767.5 L1627.5,1765.8 L1628.1,1763.8 L1628.7,1761.2 L1629.9,1754.1 L1631.1,1744.3 L1633.9,1713.9 L1634.5,1708.5 L1635.1,1704.8 L1635.7,1703.5 L1636.3,1704.8 L1636.9,1708.5 L1637.5,1714.0 L1639.9,1740.6 L1641.1,1751.5 L1641.7,1755.9 L1642.3,1759.5 L1642.9,1762.6 L1643.5,1765.0 L1644.1,1767.0 L1644.7,1768.5 L1645.3,1769.8 L1645.9,1770.8 L1646.5,1771.6 L1647.7,1772.8 L1648.9,1773.7 L1650.7,1774.6 L1654.3,1775.7 L1680.3,1777.4 L1685.1,1777.2 L1687.5,1776.7 L1690.5,1775.8 L1692.0,1775.7 L1693.5,1776.0 L1697.1,1777.1 L1722.0,1777.8 L2043.5,1778.0"/>
</g>
<line x1="261.8" y1="999.8" x2="285.6" y2="1049.6" stroke="#000" stroke-width="8.2" stroke-linecap="butt"/>
<line x1="479.2" y1="1007.6" x2="398.0" y2="1063.2" stroke="#000" stroke-width="8.2" stroke-linecap="butt"/>
<line x1="350.4" y1="1666.2" x2="251.0" y2="1755.2" stroke="#f00" stroke-width="8.2" stroke-linecap="round"/>
<text><tspan class="a" font-size="85" x="207.85" y="2029.3" textLength="95.29" lengthAdjust="spacingAndGlyphs">12</tspan></text>
<text><tspan class="a" font-size="85" x="338.4" y="2029.3" textLength="94.26" lengthAdjust="spacingAndGlyphs">14</tspan></text>
<text><tspan class="a" font-size="85" x="468.13" y="2029.3" textLength="95.61" lengthAdjust="spacingAndGlyphs">16</tspan></text>
<text><tspan class="a" font-size="85" x="598.63" y="2029.3" textLength="95.61" lengthAdjust="spacingAndGlyphs">18</tspan></text>
<text><tspan class="a" font-size="85" x="728.73" y="2029.3" textLength="94.93" lengthAdjust="spacingAndGlyphs">20</tspan></text>
<text><tspan class="a" font-size="85" x="858.07" y="2029.3" textLength="93.52" lengthAdjust="spacingAndGlyphs">22</tspan></text>
<text><tspan class="a" font-size="85" x="987.9" y="2029.3" textLength="92.57" lengthAdjust="spacingAndGlyphs">24</tspan></text>
<text><tspan class="a" font-size="85" x="1117.67" y="2029.3" textLength="93.52" lengthAdjust="spacingAndGlyphs">26</tspan></text>
<text><tspan class="a" font-size="85" x="1248.17" y="2029.3" textLength="93.52" lengthAdjust="spacingAndGlyphs">28</tspan></text>
<text><tspan class="a" font-size="85" x="1378.59" y="2029.3" textLength="93.31" lengthAdjust="spacingAndGlyphs">30</tspan></text>
<text><tspan class="a" font-size="85" x="1507.3" y="2029.3" textLength="92.88" lengthAdjust="spacingAndGlyphs">32</tspan></text>
<text><tspan class="a" font-size="85" x="1637.82" y="2029.3" textLength="91.26" lengthAdjust="spacingAndGlyphs">34</tspan></text>
<text><tspan class="a" font-size="85" x="1767.61" y="2029.3" textLength="92.16" lengthAdjust="spacingAndGlyphs">36</tspan></text>
<text><tspan class="a" font-size="85" x="1897.28" y="2029.3" textLength="93.92" lengthAdjust="spacingAndGlyphs">38</tspan></text>
<text><tspan class="a" font-size="92" x="838.86" y="2147" textLength="50.61" lengthAdjust="spacingAndGlyphs">2</tspan><tspan class="r" font-size="96.4" x="891.25" y="2146.6" textLength="55.67" lengthAdjust="spacingAndGlyphs" stroke="#000" stroke-width="2.4" stroke-linejoin="round">θ</tspan><tspan class="a" font-size="40" x="950" y="2147"> </tspan><tspan class="r" font-size="101.5" x="972.52" y="2147" textLength="38.13" lengthAdjust="spacingAndGlyphs">(</tspan><tspan class="a" font-size="90" x="1009.37" y="2147" textLength="305.68" lengthAdjust="spacingAndGlyphs">Degree</tspan><tspan class="r" font-size="101.5" x="1315.21" y="2147" textLength="40.37" lengthAdjust="spacingAndGlyphs">)</tspan></text>
<text transform="translate(109.8,0) rotate(-90)"><tspan class="a" font-size="97" x="-1280.91" y="0" textLength="368.84" lengthAdjust="spacingAndGlyphs">Intensity</tspan><tspan class="a" font-size="40" x="-905" y="0"> </tspan><tspan class="a" font-size="97" x="-886.74" y="0" textLength="220.98" lengthAdjust="spacingAndGlyphs">(a.u.)</tspan></text>
<text><tspan class="s" font-size="91.3" x="879.14" y="170" textLength="160.5" lengthAdjust="spacingAndGlyphs">120</tspan><tspan class="a" font-size="84.3" x="1042.11" y="170.6" textLength="50.29" lengthAdjust="spacingAndGlyphs">+</tspan><tspan class="s" font-size="91.3" x="1092.44" y="170" textLength="160.5" lengthAdjust="spacingAndGlyphs">130</tspan><tspan class="a" font-size="84.3" x="1255.41" y="170.6" textLength="50.29" lengthAdjust="spacingAndGlyphs">+</tspan><tspan class="s" font-size="91.3" x="1305.74" y="170" textLength="160.5" lengthAdjust="spacingAndGlyphs">140</tspan><tspan class="a" font-size="84.3" x="1468.71" y="170.6" textLength="50.29" lengthAdjust="spacingAndGlyphs">+</tspan><tspan class="s" font-size="91.3" x="1519.04" y="170" textLength="160.5" lengthAdjust="spacingAndGlyphs">150</tspan><tspan class="a" font-size="84.3" x="1682.01" y="170.6" textLength="50.29" lengthAdjust="spacingAndGlyphs">+</tspan><tspan class="s" font-size="91.3" x="1732.34" y="170" textLength="160.5" lengthAdjust="spacingAndGlyphs">160</tspan><tspan class="s" font-size="78.5" x="1894.21" y="136.1" textLength="42.97" lengthAdjust="spacingAndGlyphs">o</tspan><tspan class="s" font-size="84" x="1940.08" y="168.4" textLength="49.54" lengthAdjust="spacingAndGlyphs" stroke="#000" stroke-width="4.4" stroke-linejoin="round">C</tspan></text>
<text><tspan class="s" font-size="91.3" x="1079.64" y="341.5" textLength="160.5" lengthAdjust="spacingAndGlyphs">120</tspan><tspan class="a" font-size="84.3" x="1242.61" y="342.1" textLength="50.29" lengthAdjust="spacingAndGlyphs">+</tspan><tspan class="s" font-size="91.3" x="1292.94" y="341.5" textLength="160.5" lengthAdjust="spacingAndGlyphs">130</tspan><tspan class="a" font-size="84.3" x="1455.91" y="342.1" textLength="50.29" lengthAdjust="spacingAndGlyphs">+</tspan><tspan class="s" font-size="91.3" x="1506.24" y="341.5" textLength="160.5" lengthAdjust="spacingAndGlyphs">140</tspan><tspan class="a" font-size="84.3" x="1669.21" y="342.1" textLength="50.29" lengthAdjust="spacingAndGlyphs">+</tspan><tspan class="s" font-size="91.3" x="1719.54" y="341.5" textLength="160.5" lengthAdjust="spacingAndGlyphs">150</tspan><tspan class="s" font-size="78.5" x="1881.41" y="307.6" textLength="42.97" lengthAdjust="spacingAndGlyphs">o</tspan><tspan class="s" font-size="84" x="1927.28" y="339.9" textLength="49.54" lengthAdjust="spacingAndGlyphs" stroke="#000" stroke-width="4.4" stroke-linejoin="round">C</tspan></text>
<text><tspan class="s" font-size="91.3" x="1307.34" y="515.4" textLength="160.5" lengthAdjust="spacingAndGlyphs">120</tspan><tspan class="a" font-size="84.3" x="1470.31" y="516" textLength="50.29" lengthAdjust="spacingAndGlyphs">+</tspan><tspan class="s" font-size="91.3" x="1520.64" y="515.4" textLength="160.5" lengthAdjust="spacingAndGlyphs">130</tspan><tspan class="a" font-size="84.3" x="1683.61" y="516" textLength="50.29" lengthAdjust="spacingAndGlyphs">+</tspan><tspan class="s" font-size="91.3" x="1733.94" y="515.4" textLength="160.5" lengthAdjust="spacingAndGlyphs">140</tspan><tspan class="s" font-size="78.5" x="1895.81" y="481.5" textLength="42.97" lengthAdjust="spacingAndGlyphs">o</tspan><tspan class="s" font-size="84" x="1941.68" y="513.8" textLength="49.54" lengthAdjust="spacingAndGlyphs" stroke="#000" stroke-width="4.4" stroke-linejoin="round">C</tspan></text>
<text><tspan class="s" font-size="91.3" x="1513.24" y="687" textLength="160.5" lengthAdjust="spacingAndGlyphs">120</tspan><tspan class="a" font-size="84.3" x="1676.21" y="687.6" textLength="50.29" lengthAdjust="spacingAndGlyphs">+</tspan><tspan class="s" font-size="91.3" x="1726.54" y="687" textLength="160.5" lengthAdjust="spacingAndGlyphs">130</tspan><tspan class="s" font-size="78.5" x="1888.41" y="653.1" textLength="42.97" lengthAdjust="spacingAndGlyphs">o</tspan><tspan class="s" font-size="84" x="1934.28" y="685.4" textLength="49.54" lengthAdjust="spacingAndGlyphs" stroke="#000" stroke-width="4.4" stroke-linejoin="round">C</tspan></text>
<text fill="#f00"><tspan class="s" font-size="91.3" x="1563.06" y="859.8" textLength="105.33" lengthAdjust="spacingAndGlyphs">70</tspan><tspan class="a" font-size="84.3" x="1670.91" y="860.4" textLength="50.29" lengthAdjust="spacingAndGlyphs">+</tspan><tspan class="s" font-size="91.3" x="1721.24" y="859.8" textLength="160.5" lengthAdjust="spacingAndGlyphs">120</tspan><tspan class="s" font-size="78.5" x="1883.11" y="825.9" textLength="42.97" lengthAdjust="spacingAndGlyphs">o</tspan><tspan class="s" font-size="84" x="1928.98" y="858.2" textLength="49.54" lengthAdjust="spacingAndGlyphs" stroke="#f00" stroke-width="4.4" stroke-linejoin="round">C</tspan></text>
<text><tspan class="s" font-size="91.3" x="1564.69" y="1031.8" textLength="102.71" lengthAdjust="spacingAndGlyphs">27</tspan><tspan class="a" font-size="84.3" x="1671.61" y="1032.4" textLength="50.29" lengthAdjust="spacingAndGlyphs">+</tspan><tspan class="s" font-size="91.3" x="1721.94" y="1031.8" textLength="160.5" lengthAdjust="spacingAndGlyphs">120</tspan><tspan class="s" font-size="78.5" x="1883.81" y="997.9" textLength="42.97" lengthAdjust="spacingAndGlyphs">o</tspan><tspan class="s" font-size="84" x="1929.68" y="1030.2" textLength="49.54" lengthAdjust="spacingAndGlyphs" stroke="#000" stroke-width="4.4" stroke-linejoin="round">C</tspan></text>
<text><tspan class="s" font-size="91.3" x="1564.69" y="1204.2" textLength="102.71" lengthAdjust="spacingAndGlyphs">27</tspan><tspan class="a" font-size="84.3" x="1671.61" y="1204.8" textLength="50.29" lengthAdjust="spacingAndGlyphs">+</tspan><tspan class="s" font-size="91.3" x="1721.94" y="1204.2" textLength="160.5" lengthAdjust="spacingAndGlyphs">100</tspan><tspan class="s" font-size="78.5" x="1883.81" y="1170.3" textLength="42.97" lengthAdjust="spacingAndGlyphs">o</tspan><tspan class="s" font-size="84" x="1929.68" y="1202.6" textLength="49.54" lengthAdjust="spacingAndGlyphs" stroke="#000" stroke-width="4.4" stroke-linejoin="round">C</tspan></text>
<text><tspan class="s" font-size="91.3" x="1719.54" y="1376.4" textLength="160.5" lengthAdjust="spacingAndGlyphs">120</tspan><tspan class="s" font-size="78.5" x="1881.41" y="1342.5" textLength="42.97" lengthAdjust="spacingAndGlyphs">o</tspan><tspan class="s" font-size="84" x="1927.28" y="1374.8" textLength="49.54" lengthAdjust="spacingAndGlyphs" stroke="#000" stroke-width="4.4" stroke-linejoin="round">C</tspan></text>
<text><tspan class="s" font-size="91.3" x="1719.54" y="1549.4" textLength="160.5" lengthAdjust="spacingAndGlyphs">100</tspan><tspan class="s" font-size="78.5" x="1881.41" y="1515.5" textLength="42.97" lengthAdjust="spacingAndGlyphs">o</tspan><tspan class="s" font-size="84" x="1927.28" y="1547.8" textLength="49.54" lengthAdjust="spacingAndGlyphs" stroke="#000" stroke-width="4.4" stroke-linejoin="round">C</tspan></text>
<text><tspan class="s" font-size="91.3" x="1767.76" y="1721.8" textLength="105.33" lengthAdjust="spacingAndGlyphs">70</tspan><tspan class="s" font-size="78.5" x="1874.51" y="1687.9" textLength="42.97" lengthAdjust="spacingAndGlyphs">o</tspan><tspan class="s" font-size="84" x="1920.38" y="1720.2" textLength="49.54" lengthAdjust="spacingAndGlyphs" stroke="#000" stroke-width="4.4" stroke-linejoin="round">C</tspan></text>
<text><tspan class="s" font-size="88" x="169.14" y="996.4" textLength="135.86" lengthAdjust="spacingAndGlyphs">PbI</tspan><tspan class="s" font-size="74.5" x="305.64" y="1022.6" textLength="42.51" lengthAdjust="spacingAndGlyphs">2</tspan></text>
<text><tspan class="s" font-size="88" x="449.38" y="1010.6" textLength="272.85" lengthAdjust="spacingAndGlyphs">MAPbI</tspan><tspan class="s" font-size="74.5" x="723.89" y="1036.8" textLength="41.83" lengthAdjust="spacingAndGlyphs">3</tspan></text>
<text fill="#f00"><tspan class="s" font-size="88" x="353.98" y="1691.8" textLength="35.4" lengthAdjust="spacingAndGlyphs">(</tspan><tspan class="s" font-size="88" x="387.42" y="1691.8" textLength="114.51" lengthAdjust="spacingAndGlyphs">CH</tspan><tspan class="s" font-size="74.5" x="505.61" y="1715.7" textLength="41.37" lengthAdjust="spacingAndGlyphs">3</tspan><tspan class="s" font-size="88" x="552.01" y="1691.8" textLength="35.1" lengthAdjust="spacingAndGlyphs">)</tspan><tspan class="s" font-size="74.5" x="587.69" y="1716.2" textLength="41.71" lengthAdjust="spacingAndGlyphs">2</tspan><tspan class="s" font-size="88" x="634.31" y="1691.8" textLength="123.7" lengthAdjust="spacingAndGlyphs">NH</tspan><tspan class="s" font-size="74.5" x="759.5" y="1716.2" textLength="41.6" lengthAdjust="spacingAndGlyphs">2</tspan><tspan class="s" font-size="88" x="808.43" y="1691.8" textLength="136.59" lengthAdjust="spacingAndGlyphs">PbI</tspan><tspan class="s" font-size="74.5" x="946.8" y="1715.7" textLength="41.6" lengthAdjust="spacingAndGlyphs">3</tspan></text>
</svg></body></html>
